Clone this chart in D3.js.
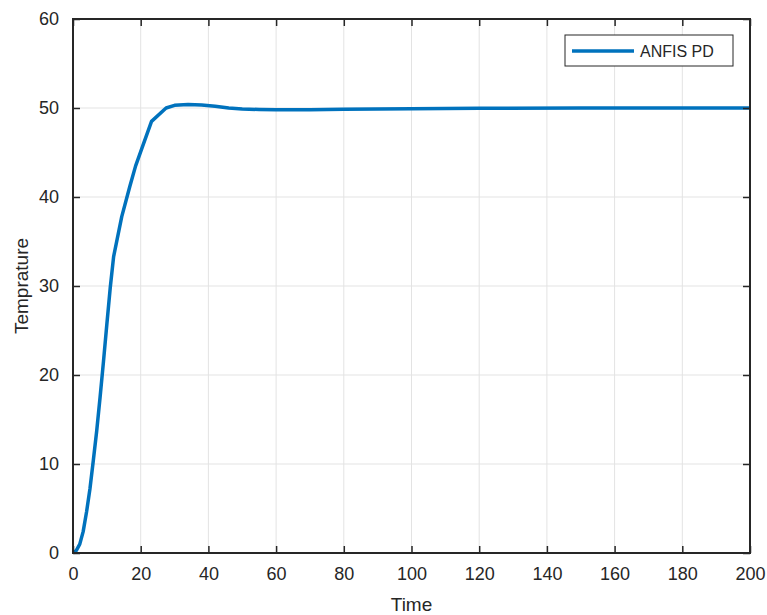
<!DOCTYPE html>
<html>
<head>
<meta charset="utf-8">
<script src="https://cdn.jsdelivr.net/npm/d3@7"></script>
<style>
  body { margin: 0; background: #fff; }
  svg text { font-family: "Liberation Sans", Arial, sans-serif; fill: #262626; }
</style>
</head>
<body>
<svg id="chart"></svg>
<script>
var width = 767;
var height = 615;
var margin = {top: 19, right: 17, bottom: 62, left: 73};

var seriesName = "ANFIS PD";
var xLabel = "Time";
var yLabel = "Temprature";
var xTicks = [0, 20, 40, 60, 80, 100, 120, 140, 160, 180, 200];
var yTicks = [0, 10, 20, 30, 40, 50, 60];

// time / temperature
var timeVals = [0, 1, 2, 3, 4, 5, 6, 7, 8, 9, 10, 11, 12, 14.4, 16.8, 18.5, 20, 23.2, 27.5, 30, 34, 38, 42, 46, 50, 55, 60, 70, 80, 100, 120, 150, 200];
var tempVals = [0, 0.3, 1.0, 2.4, 4.6, 7.2, 10.4, 13.7, 17.5, 21.5, 25.7, 29.8, 33.3, 37.8, 41.2, 43.5, 45.1, 48.5, 50.0, 50.3, 50.4, 50.35, 50.2, 50.0, 49.9, 49.83, 49.8, 49.8, 49.85, 49.92, 49.96, 49.99, 50];

var data = timeVals.map(function(t, i) { return {t: t, v: tempVals[i]}; });

var svg = d3.select("#chart").attr("width", width).attr("height", height);

var x = d3.scaleLinear().domain([0, 200]).range([margin.left, width - margin.right]);
var y = d3.scaleLinear().domain([0, 60]).range([height - margin.bottom, margin.top]);

//grid
svg.append("g").selectAll("line").data(xTicks.slice(1, -1)).enter().append("line")
  .attr("x1", function(d) { return x(d); }).attr("x2", function(d) { return x(d); })
  .attr("y1", y(0)).attr("y2", y(60))
  .attr("stroke", "#e3e3e3").attr("stroke-width", 1);
svg.append("g").selectAll("line").data(yTicks.slice(1, -1)).enter().append("line")
  .attr("y1", function(d) { return y(d); }).attr("y2", function(d) { return y(d); })
  .attr("x1", x(0)).attr("x2", x(200))
  .attr("stroke", "#e3e3e3").attr("stroke-width", 1);

//curve (straight segments, like matlab plot)
var line = d3.line()
  .x(function(d) { return x(d.t); })
  .y(function(d) { return y(d.v); });

svg.append("path").datum(data)
  .attr("d", line)
  .attr("fill", "none")
  .attr("stroke", "#0072BD")
  .attr("stroke-width", 3.5)
  .attr("stroke-linejoin", "round");

//axes (inward ticks, box on)
function styleAxis(g) {
  g.select(".domain").remove();
  g.selectAll(".tick line").attr("stroke", "#262626").attr("stroke-width", 1.5);
  g.selectAll(".tick text").attr("font-size", "18px").attr("fill", "#262626");
}

svg.append("g")
  .attr("transform", "translate(0," + y(0) + ")")
  .call(d3.axisBottom(x).tickValues(xTicks).tickSizeInner(-7).tickSizeOuter(0).tickPadding(14))
  .call(styleAxis);
svg.append("g")
  .attr("transform", "translate(0," + y(60) + ")")
  .call(d3.axisTop(x).tickValues(xTicks).tickSizeInner(-7).tickSizeOuter(0).tickFormat(""))
  .call(styleAxis);
svg.append("g")
  .attr("transform", "translate(" + x(0) + ",0)")
  .call(d3.axisLeft(y).tickValues(yTicks).tickSizeInner(-7).tickSizeOuter(0).tickPadding(14))
  .call(styleAxis);
svg.append("g")
  .attr("transform", "translate(" + x(200) + ",0)")
  .call(d3.axisRight(y).tickValues(yTicks).tickSizeInner(-7).tickSizeOuter(0).tickFormat(""))
  .call(styleAxis);

svg.append("rect")
  .attr("x", x(0)).attr("y", y(60))
  .attr("width", x(200) - x(0)).attr("height", y(0) - y(60))
  .attr("fill", "none").attr("stroke", "#262626").attr("stroke-width", 2);

//labels
svg.append("text")
  .attr("x", (x(0) + x(200)) / 2).attr("y", 611)
  .attr("text-anchor", "middle").attr("font-size", "19px")
  .text(xLabel);
svg.append("text")
  .attr("transform", "translate(28," + (y(0) + y(60)) / 2 + ") rotate(-90)")
  .attr("text-anchor", "middle").attr("font-size", "19px")
  .text(yLabel);

//legend
var lg = svg.append("g");
lg.append("rect")
  .attr("x", 565).attr("y", 35).attr("width", 168).attr("height", 31)
  .attr("fill", "#fff").attr("stroke", "#262626").attr("stroke-width", 1);
lg.append("line")
  .attr("x1", 572).attr("x2", 634).attr("y1", 51).attr("y2", 51)
  .attr("stroke", "#0072BD").attr("stroke-width", 3.5);
lg.append("text")
  .attr("x", 640).attr("y", 57).attr("font-size", "16px")
  .text(seriesName);
</script>
</body>
</html>
